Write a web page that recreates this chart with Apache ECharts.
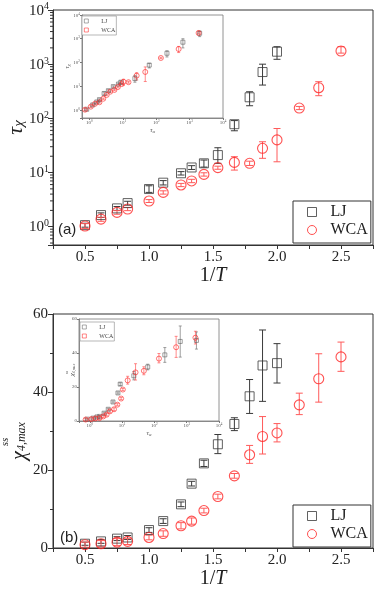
<!DOCTYPE html>
<html>
<head>
<meta charset="utf-8">
<script src="https://cdn.jsdelivr.net/npm/echarts@6/dist/echarts.min.js"></script>
<style>
  html, body { margin: 0; padding: 0; background: #fff; }
  #chart { width: 374px; height: 589px; }
</style>
</head>
<body>
<div id="chart"></div>
<script>
// 1/T state points
const ljInvT = [0.5, 0.625, 0.75, 0.833, 1.0, 1.111, 1.25, 1.333, 1.429, 1.538, 1.667, 1.786, 1.887, 2.0];
const wcaInvT = [0.5, 0.625, 0.75, 0.833, 1.0, 1.111, 1.25, 1.333, 1.429, 1.538, 1.667, 1.786, 1.887, 2.0, 2.174, 2.326, 2.5];

// panel (a): tau_chi with error range
const ljTau = [1.07, 1.64, 2.18, 2.73, 4.96, 6.5, 9.7, 12.4, 14.8, 21, 78, 245, 716, 1700];
const ljTauLo = [0.98, 1.48, 2.0, 2.5, 4.3, 5.9, 9.0, 11.4, 12.6, 14.8, 59, 171, 412, 1230];
const ljTauHi = [1.16, 1.8, 2.36, 2.95, 5.7, 7.1, 10.4, 13.4, 17.0, 28.7, 91, 310, 1000, 2100];
const wcaTau = [1.03, 1.38, 1.84, 2.12, 2.98, 4.3, 5.9, 7.0, 9.25, 12.3, 15.4, 14.8, 28, 40, 155, 368, 1750];
const wcaTauLo = [0.93, 1.26, 1.7, 1.98, 2.8, 4.0, 5.5, 6.5, 8.6, 11.5, 11.1, 13.5, 18.3, 15.8, 145, 262, 1600];
const wcaTauHi = [1.14, 1.5, 1.98, 2.27, 3.17, 4.6, 6.3, 7.5, 9.9, 13.1, 19.6, 16.2, 37, 65, 166, 475, 2100];

// panel (b): chi_4,max with error range
const ljChi = [1.1, 1.7, 2.4, 2.7, 4.6, 6.9, 11.2, 16.5, 21.7, 26.6, 31.8, 38.9, 46.8, 47.4];
const ljChiLo = [0.7, 1.2, 1.9, 2.2, 4.0, 6.3, 10.6, 15.9, 20.9, 24.2, 30.1, 34.5, 37.6, 42.3];
const ljChiHi = [1.5, 2.2, 2.9, 3.2, 5.2, 7.5, 11.8, 17.1, 22.5, 29.1, 33.4, 43.2, 55.9, 52.4];
const wcaChi = [0.85, 1.1, 1.5, 1.7, 2.7, 3.7, 5.7, 6.9, 9.6, 13.2, 18.5, 23.9, 28.6, 29.5, 36.7, 43.4, 49.0];
const wcaChiLo = [0.2, 0.3, 0.6, 0.9, 2.1, 3.0, 4.9, 6.1, 9.0, 12.6, 17.9, 21.7, 24.1, 27.2, 34.2, 37.4, 45.3];
const wcaChiHi = [1.5, 1.9, 2.4, 2.5, 3.3, 4.4, 6.5, 7.7, 10.2, 13.8, 19.1, 26.3, 33.7, 31.9, 39.7, 49.8, 52.8];

// insets: tau_alpha of the same state points
const ljTauAlpha = [0.83, 1.26, 1.66, 2.0, 2.75, 3.7, 5.2, 7.4, 8.7, 23, 62, 210, 630, 2000];
const wcaTauAlpha = [0.74, 1.1, 1.48, 2.0, 2.6, 3.3, 4.2, 5.6, 7.1, 9.3, 10.5, 14.8, 26, 47, 138, 470, 1860];

// minor ticks of the log axis in panel (a)
const logMinorTicks = [0.5, 0.6, 0.7, 0.8, 0.9, 2, 3, 4, 5, 6, 7, 8, 9, 20, 30, 40, 50, 60, 70, 80, 90,
  200, 300, 400, 500, 600, 700, 800, 900, 2000, 3000, 4000, 5000, 6000, 7000, 8000, 9000];

const SERIF = '"Liberation Serif", "Times New Roman", serif';
const SANS = '"Liberation Sans", Arial, sans-serif';
const DARK = '#3a3a3a';
const RED = '#ff2626';
const RED_ERR = '#ff5a5a';

function rows(xs, ys, lo, hi) {
  return xs.map((x, i) => [x, ys[i], lo[i], hi[i]]);
}

function logLabel(size, color) {
  return {
    color: color,
    formatter: (v) => {
      const e = Math.log10(v);
      const k = Math.round(e);
      if (Math.abs(e - k) > 0.01) return '';
      return '{b|10}{s|' + k + '}';
    },
    rich: {
      b: { fontSize: size, fontFamily: SERIF, color: color, lineHeight: size * 1.1, verticalAlign: 'bottom' },
      s: { fontSize: size * 0.66, fontFamily: SERIF, color: color, lineHeight: size * 0.66, verticalAlign: 'top' },
    },
  };
}

function errRender(cap, color, width) {
  return (params, api) => {
    const x = api.value(0);
    const a = api.coord([x, api.value(2)]);
    const b = api.coord([x, api.value(3)]);
    const style = { stroke: color, lineWidth: width };
    return {
      type: 'group',
      children: [
        { type: 'line', shape: { x1: a[0], y1: a[1], x2: b[0], y2: b[1] }, style },
        { type: 'line', shape: { x1: a[0] - cap, y1: a[1], x2: a[0] + cap, y2: a[1] }, style },
        { type: 'line', shape: { x1: b[0] - cap, y1: b[1], x2: b[0] + cap, y2: b[1] }, style },
      ],
    };
  };
}

function errSeries(name, gi, data, cap, color, width) {
  return {
    name: name, type: 'custom', xAxisIndex: gi, yAxisIndex: gi,
    data: data, renderItem: errRender(cap, color, width), silent: true, z: 3,
    encode: { x: 0, y: 1 },
  };
}

function dotSeries(name, gi, data, symbol, size, color, width) {
  return {
    name: name, type: 'scatter', xAxisIndex: gi, yAxisIndex: gi,
    data: data.map((d) => [d[0], d[1]]), symbol: symbol, symbolSize: size, z: 4,
    itemStyle: { color: 'rgba(0,0,0,0)', borderColor: color, borderWidth: width },
  };
}

const mainX = (gi) => ({
  type: 'value', gridIndex: gi, min: 0.25, max: 2.75, interval: 0.25,
  name: '{n|1/}{t|T}', nameLocation: 'middle', nameGap: 21, nameMoveOverlap: false,
  nameTextStyle: { rich: {
    n: { fontSize: 20, fontFamily: SERIF, color: '#222' },
    t: { fontSize: 20, fontFamily: SERIF, fontStyle: 'italic', color: '#222' },
  } },
  axisLine: { lineStyle: { color: '#333', width: 1 } },
  axisTick: { length: 4, lineStyle: { color: '#333' } },
  splitLine: { show: false },
  axisLabel: {
    fontFamily: SERIF, fontSize: 15, color: '#222', margin: 5,
    formatter: (v) => (Math.abs(v * 2 - Math.round(v * 2)) < 1e-6 && v > 0.3 && v < 2.7 ? v.toFixed(1) : ''),
  },
});

const insetLogX = (gi, min) => ({
  type: 'log', gridIndex: gi, min: min, max: 10000,
  name: '{t|τ}{s|α}', nameLocation: 'middle', nameGap: 9, nameMoveOverlap: false,
  nameTextStyle: { rich: {
    t: { fontSize: 7, fontFamily: SERIF, fontStyle: 'italic', color: '#555' },
    s: { fontSize: 5, fontFamily: SERIF, fontStyle: 'italic', color: '#555', verticalAlign: 'bottom' },
  } },
  axisLine: { lineStyle: { color: '#777', width: 0.8 } },
  axisTick: { length: 2, lineStyle: { color: '#777' } },
  splitLine: { show: false },
  axisLabel: Object.assign(logLabel(5, '#555'), { margin: 2 }),
});

const gridBase = { show: true, outerBoundsMode: 'none', containLabel: false };

const option = {
  animation: false,
  backgroundColor: '#fff',
  grid: [
    Object.assign({ left: 53, top: 10, width: 320, height: 235, borderColor: '#333', borderWidth: 1, backgroundColor: 'transparent' }, gridBase),
    Object.assign({ left: 82, top: 15, width: 141, height: 103, borderColor: '#777', borderWidth: 0.8, backgroundColor: '#fff' }, gridBase),
    Object.assign({ left: 53, top: 314, width: 320, height: 234, borderColor: '#333', borderWidth: 1, backgroundColor: 'transparent' }, gridBase),
    Object.assign({ left: 79, top: 319, width: 140, height: 102, borderColor: '#777', borderWidth: 0.8, backgroundColor: '#fff' }, gridBase),
  ],
  xAxis: [
    mainX(0),
    insetLogX(1, 0.6),
    mainX(2),
    insetLogX(3, 0.46),
  ],
  yAxis: [
    {
      type: 'log', gridIndex: 0, min: 0.46, max: 10000,
      name: '{t|τ}{s|χ}', nameLocation: 'middle', nameGap: 26, nameMoveOverlap: false,
      nameTextStyle: { rich: {
        t: { fontSize: 22, fontFamily: SERIF, fontStyle: 'italic', color: '#222', lineHeight: 22, verticalAlign: 'top' },
        s: { fontSize: 15, fontFamily: SERIF, fontStyle: 'italic', color: '#222', lineHeight: 15, verticalAlign: 'bottom' },
      } },
      axisLine: { lineStyle: { color: '#333', width: 1 } },
      axisTick: { length: 5, lineStyle: { color: '#333' } },
      splitLine: { show: false },
      axisLabel: Object.assign(logLabel(15, '#222'), { margin: 4 }),
    },
    {
      type: 'log', gridIndex: 1, min: 0.46, max: 10000,
      name: '{t|τ}{s|χ}', nameLocation: 'middle', nameGap: 11, nameMoveOverlap: false,
      nameTextStyle: { rich: {
        t: { fontSize: 7, fontFamily: SERIF, fontStyle: 'italic', color: '#555' },
        s: { fontSize: 5, fontFamily: SERIF, fontStyle: 'italic', color: '#555', verticalAlign: 'bottom' },
      } },
      axisLine: { lineStyle: { color: '#777', width: 0.8 } },
      axisTick: { length: 2, lineStyle: { color: '#777' } },
      splitLine: { show: false },
      axisLabel: Object.assign(logLabel(5, '#555'), { margin: 2 }),
    },
    {
      type: 'value', gridIndex: 2, min: 0, max: 60, interval: 20,
      name: '{sup|ss}\n{chi|χ}{sub|4,max}', nameLocation: 'middle', nameGap: 25, nameMoveOverlap: false,
      nameTextStyle: { rich: {
        sup: { fontSize: 11, fontFamily: SERIF, fontStyle: 'italic', color: '#222', lineHeight: 10, padding: [0, 22, 0, 0] },
        chi: { fontSize: 20, fontFamily: SERIF, fontStyle: 'italic', color: '#222', lineHeight: 18, verticalAlign: 'top' },
        sub: { fontSize: 12, fontFamily: SERIF, fontStyle: 'italic', color: '#222', lineHeight: 12, verticalAlign: 'bottom', padding: [0, 20, 0, 0] },
      } },
      axisLine: { lineStyle: { color: '#333', width: 1 } },
      axisTick: { length: 5, lineStyle: { color: '#333' } },
      minorTick: { show: true, splitNumber: 2, length: 3, lineStyle: { color: '#333' } },
      splitLine: { show: false },
      axisLabel: { fontFamily: SERIF, fontSize: 15, color: '#222', margin: 5 },
    },
    {
      type: 'value', gridIndex: 3, min: 0, max: 60, interval: 20,
      name: '{sup|ss}\n{chi|χ}{sub|4,max}', nameLocation: 'middle', nameGap: 3, nameMoveOverlap: false,
      nameTextStyle: { rich: {
        sup: { fontSize: 4, fontFamily: SERIF, fontStyle: 'italic', color: '#555', lineHeight: 4, padding: [0, 5, 0, 0] },
        chi: { fontSize: 7, fontFamily: SERIF, fontStyle: 'italic', color: '#555', lineHeight: 7 },
        sub: { fontSize: 4, fontFamily: SERIF, fontStyle: 'italic', color: '#555', lineHeight: 4, verticalAlign: 'bottom' },
      } },
      axisLine: { lineStyle: { color: '#777', width: 0.8 } },
      axisTick: { length: 2, lineStyle: { color: '#777' } },
      splitLine: { show: false },
      axisLabel: { fontFamily: SERIF, fontSize: 5, color: '#555', margin: 2 },
    },
  ],
  legend: [
    {
      left: 293, top: 201, orient: 'vertical', itemWidth: 9, itemHeight: 9, itemGap: 2,
      padding: [3, 3, 5, 14], borderColor: '#333', borderWidth: 1, backgroundColor: '#fff',
      textStyle: { fontFamily: SERIF, fontSize: 16, color: '#222', padding: [0, 0, 0, 9] },
      data: [
        { name: 'LJ', icon: 'rect', itemStyle: { color: '#fff', borderColor: DARK, borderWidth: 1 } },
        { name: 'WCA', icon: 'circle', itemStyle: { color: '#fff', borderColor: RED, borderWidth: 1 } },
      ],
    },
    {
      left: 293, top: 505, orient: 'vertical', itemWidth: 9, itemHeight: 9, itemGap: 2,
      padding: [3, 3, 5, 14], borderColor: '#333', borderWidth: 1, backgroundColor: '#fff',
      textStyle: { fontFamily: SERIF, fontSize: 16, color: '#222', padding: [0, 0, 0, 9] },
      data: [
        { name: 'LJ', icon: 'rect', itemStyle: { color: '#fff', borderColor: DARK, borderWidth: 1 } },
        { name: 'WCA', icon: 'circle', itemStyle: { color: '#fff', borderColor: RED, borderWidth: 1 } },
      ],
    },
    {
      left: 82, top: 16, orient: 'vertical', itemWidth: 4, itemHeight: 4, itemGap: 3,
      padding: [2, 1, 2, 2], borderColor: '#999', borderWidth: 0.7, backgroundColor: '#fff',
      textStyle: { fontFamily: SERIF, fontSize: 6, color: '#444', padding: [0, 0, 0, 8] },
      data: [
        { name: 'LJ', icon: 'rect', itemStyle: { color: '#fff', borderColor: '#666', borderWidth: 0.7 } },
        { name: 'WCA', icon: 'rect', itemStyle: { color: '#fff', borderColor: RED, borderWidth: 0.7 } },
      ],
    },
    {
      left: 80, top: 322, orient: 'vertical', itemWidth: 4, itemHeight: 4, itemGap: 3,
      padding: [2, 1, 2, 2], borderColor: '#999', borderWidth: 0.7, backgroundColor: '#fff',
      textStyle: { fontFamily: SERIF, fontSize: 6, color: '#444', padding: [0, 0, 0, 8] },
      data: [
        { name: 'LJ', icon: 'rect', itemStyle: { color: '#fff', borderColor: '#666', borderWidth: 0.7 } },
        { name: 'WCA', icon: 'rect', itemStyle: { color: '#fff', borderColor: RED, borderWidth: 0.7 } },
      ],
    },
  ],
  graphic: [
    { type: 'text', left: 58, top: 222, style: { text: '(a)', font: '15px ' + SANS, fill: '#222' } },
    { type: 'text', left: 60, top: 530, style: { text: '(b)', font: '15px ' + SANS, fill: '#222' } },
  ],
  series: [
    // minor ticks on the log axis of panel (a)
    {
      type: 'custom', xAxisIndex: 0, yAxisIndex: 0, silent: true, clip: false,
      data: logMinorTicks.map((v) => [0.25, v]),
      renderItem: (params, api) => {
        const p = api.coord([api.value(0), api.value(1)]);
        return { type: 'line', shape: { x1: p[0] - 3, y1: p[1], x2: p[0], y2: p[1] }, style: { stroke: '#333', lineWidth: 1 } };
      },
    },
    // panel (a)
    errSeries('LJ err', 0, rows(ljInvT, ljTau, ljTauLo, ljTauHi), 3.5, DARK, 1),
    errSeries('WCA err', 0, rows(wcaInvT, wcaTau, wcaTauLo, wcaTauHi), 3.5, RED_ERR, 1),
    dotSeries('LJ', 0, rows(ljInvT, ljTau, ljTauLo, ljTauHi), 'rect', 9, DARK, 1),
    dotSeries('WCA', 0, rows(wcaInvT, wcaTau, wcaTauLo, wcaTauHi), 'circle', 10, RED, 1.1),
    // inset (a)
    errSeries('LJ err', 1, rows(ljTauAlpha, ljTau, ljTauLo, ljTauHi), 1.5, '#777', 0.7),
    errSeries('WCA err', 1, rows(wcaTauAlpha, wcaTau, wcaTauLo, wcaTauHi), 1.5, RED_ERR, 0.7),
    dotSeries('LJ', 1, rows(ljTauAlpha, ljTau, ljTauLo, ljTauHi), 'rect', 4, '#555', 0.7),
    dotSeries('WCA', 1, rows(wcaTauAlpha, wcaTau, wcaTauLo, wcaTauHi), 'circle', 5, RED, 0.8),
    // panel (b)
    errSeries('LJ err', 2, rows(ljInvT, ljChi, ljChiLo, ljChiHi), 3.5, DARK, 1),
    errSeries('WCA err', 2, rows(wcaInvT, wcaChi, wcaChiLo, wcaChiHi), 3.5, RED_ERR, 1),
    dotSeries('LJ', 2, rows(ljInvT, ljChi, ljChiLo, ljChiHi), 'rect', 9, DARK, 1),
    dotSeries('WCA', 2, rows(wcaInvT, wcaChi, wcaChiLo, wcaChiHi), 'circle', 10, RED, 1.1),
    // inset (b)
    errSeries('LJ err', 3, rows(ljTauAlpha, ljChi, ljChiLo, ljChiHi), 1.5, '#777', 0.7),
    errSeries('WCA err', 3, rows(wcaTauAlpha, wcaChi, wcaChiLo, wcaChiHi), 1.5, RED_ERR, 0.7),
    dotSeries('LJ', 3, rows(ljTauAlpha, ljChi, ljChiLo, ljChiHi), 'rect', 4, '#555', 0.7),
    dotSeries('WCA', 3, rows(wcaTauAlpha, wcaChi, wcaChiLo, wcaChiHi), 'circle', 5, RED, 0.8),
  ],
};

const chart = echarts.init(document.getElementById('chart'), null, { renderer: 'canvas' });
chart.setOption(option);
</script>
</body>
</html>
